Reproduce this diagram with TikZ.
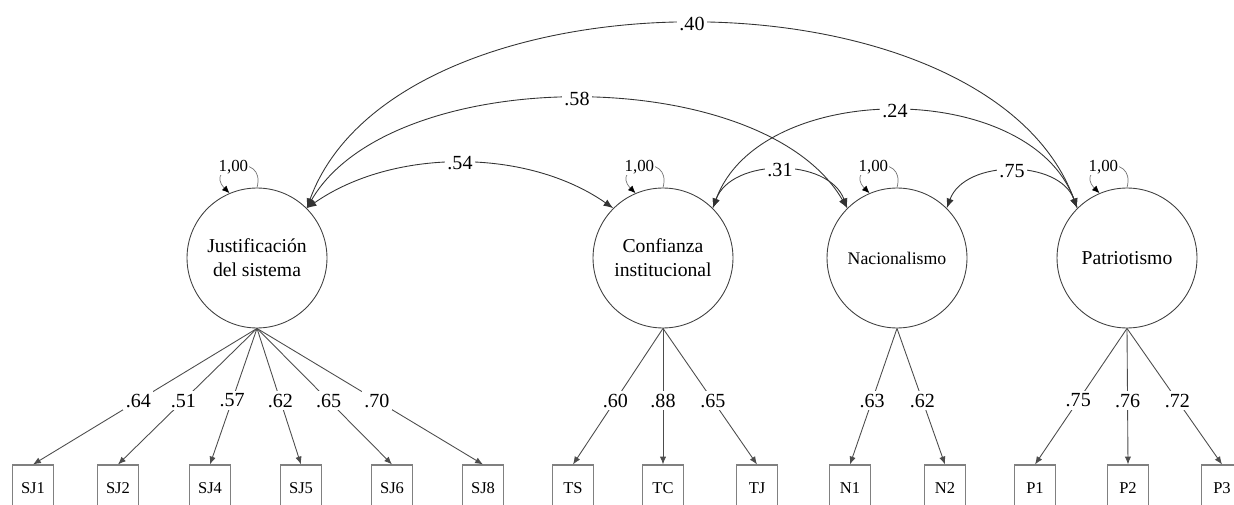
\documentclass[tikz,border=0pt]{standalone}
\usepackage{fontspec}
\setmainfont{Liberation Serif}
\usetikzlibrary{arrows.meta}
\begin{document}
\begin{tikzpicture}[x=0.02cm,y=0.02cm]

    \tikzset{
      latent/.style={
        draw=black!75,
        line width=0.5pt,
        circle,
        inner sep=0pt,
        minimum size=2.8cm,
        align=center,
        font=\fontsize{11.2}{13.5}\selectfont,
      },
      item/.style={
        draw=black!50,
        line width=0.6pt,
        inner sep=0pt,
        minimum width=0.82cm,
        minimum height=0.92cm,
        font=\fontsize{9.4}{11}\selectfont,
      },
      load/.style={
        draw=black!70,
        line width=0.5pt,
        -{Latex[length=4.5pt,width=3.6pt]},
      },
      cov/.style={
        draw=black!80,
        line width=0.5pt,
        {Latex[length=5.5pt,width=4.2pt]}-{Latex[length=5.5pt,width=4.2pt]},
      },
      varloop/.style={
        draw=black!55,
        line width=0.4pt,
        -{Latex[length=4.2pt,width=3.6pt,fill=black,color=black]},
      },
      coef/.style={
        fill=white,
        inner sep=1.5pt,
        font=\fontsize{11.4}{13}\selectfont,
      },
      varlabel/.style={
        fill=white,
        inner sep=0.5pt,
        font=\fontsize{9.6}{11}\selectfont,
      },
    }
    \useasboundingbox (0,0) rectangle (1234,504);

    \node[latent] (J) at (257,246) {Justificación\\del sistema};
    \node[latent] (C) at (663,246) {Confianza\\institucional};
    \node[latent, font=\fontsize{10.1}{12}\selectfont] (N) at (897,246) {Nacionalismo};
    \node[latent] (P) at (1127,246) {Patriotismo};

    \node[item] (SJ1) at (33,16) {SJ1};
    \node[item] (SJ2) at (118,16) {SJ2};
    \node[item] (SJ4) at (210,16) {SJ4};
    \node[item] (SJ5) at (301,16) {SJ5};
    \node[item] (SJ6) at (392,16) {SJ6};
    \node[item] (SJ8) at (483,16) {SJ8};
    \node[item] (TS) at (573,16) {TS};
    \node[item] (TC) at (663,16) {TC};
    \node[item] (TJ) at (757,16) {TJ};
    \node[item] (N1) at (850,16) {N1};
    \node[item] (N2) at (945,16) {N2};
    \node[item] (P1) at (1035,16) {P1};
    \node[item] (P2) at (1128,16) {P2};
    \node[item] (P3) at (1222,16) {P3};

    \draw[load] (J.south) -- node[coef, pos=0.53] {.64} (SJ1.north);
    \draw[load] (J.south) -- node[coef, pos=0.53] {.51} (SJ2.north);
    \draw[load] (J.south) -- node[coef, pos=0.53] {.57} (SJ4.north);
    \draw[load] (J.south) -- node[coef, pos=0.53] {.62} (SJ5.north);
    \draw[load] (J.south) -- node[coef, pos=0.53] {.65} (SJ6.north);
    \draw[load] (J.south) -- node[coef, pos=0.53] {.70} (SJ8.north);
    \draw[load] (C.south) -- node[coef, pos=0.53] {.60} (TS.north);
    \draw[load] (C.south) -- node[coef, pos=0.53] {.88} (TC.north);
    \draw[load] (C.south) -- node[coef, pos=0.53] {.65} (TJ.north);
    \draw[load] (N.south) -- node[coef, pos=0.53] {.63} (N1.north);
    \draw[load] (N.south) -- node[coef, pos=0.53] {.62} (N2.north);
    \draw[load] (P.south) -- node[coef, pos=0.53] {.75} (P1.north);
    \draw[load] (P.south) -- node[coef, pos=0.53] {.76} (P2.north);
    \draw[load] (P.south) -- node[coef, pos=0.53] {.72} (P3.north);

    \draw[cov] (J.45) to[out=70, in=110, looseness=0.87] node[coef] {.40} (P.135);
    \draw[cov] (J.45) to[out=60, in=120, looseness=0.8] node[coef] {.58} (N.135);
    \draw[cov] (J.45) to[out=35, in=145, looseness=0.88] node[coef] {.54} (C.135);
    \draw[cov] (C.45) to[out=70, in=110, looseness=0.97] node[coef] {.24} (P.135);
    \draw[cov] (C.45) to[out=70, in=110, looseness=1.03] node[coef] {.31} (N.135);
    \draw[cov] (N.45) to[out=70, in=110, looseness=1.03] node[coef] {.75} (P.135);

    \draw[varloop] (J.90) to[out=75, in=135, looseness=3.5] node[varlabel, pos=0.55] {1,00} (J.113);
    \draw[varloop] (C.90) to[out=75, in=135, looseness=3.5] node[varlabel, pos=0.55] {1,00} (C.113);
    \draw[varloop] (N.90) to[out=75, in=135, looseness=3.5] node[varlabel, pos=0.55] {1,00} (N.113);
    \draw[varloop] (P.90) to[out=75, in=135, looseness=3.5] node[varlabel, pos=0.55] {1,00} (P.113);

\end{tikzpicture}
\end{document}
